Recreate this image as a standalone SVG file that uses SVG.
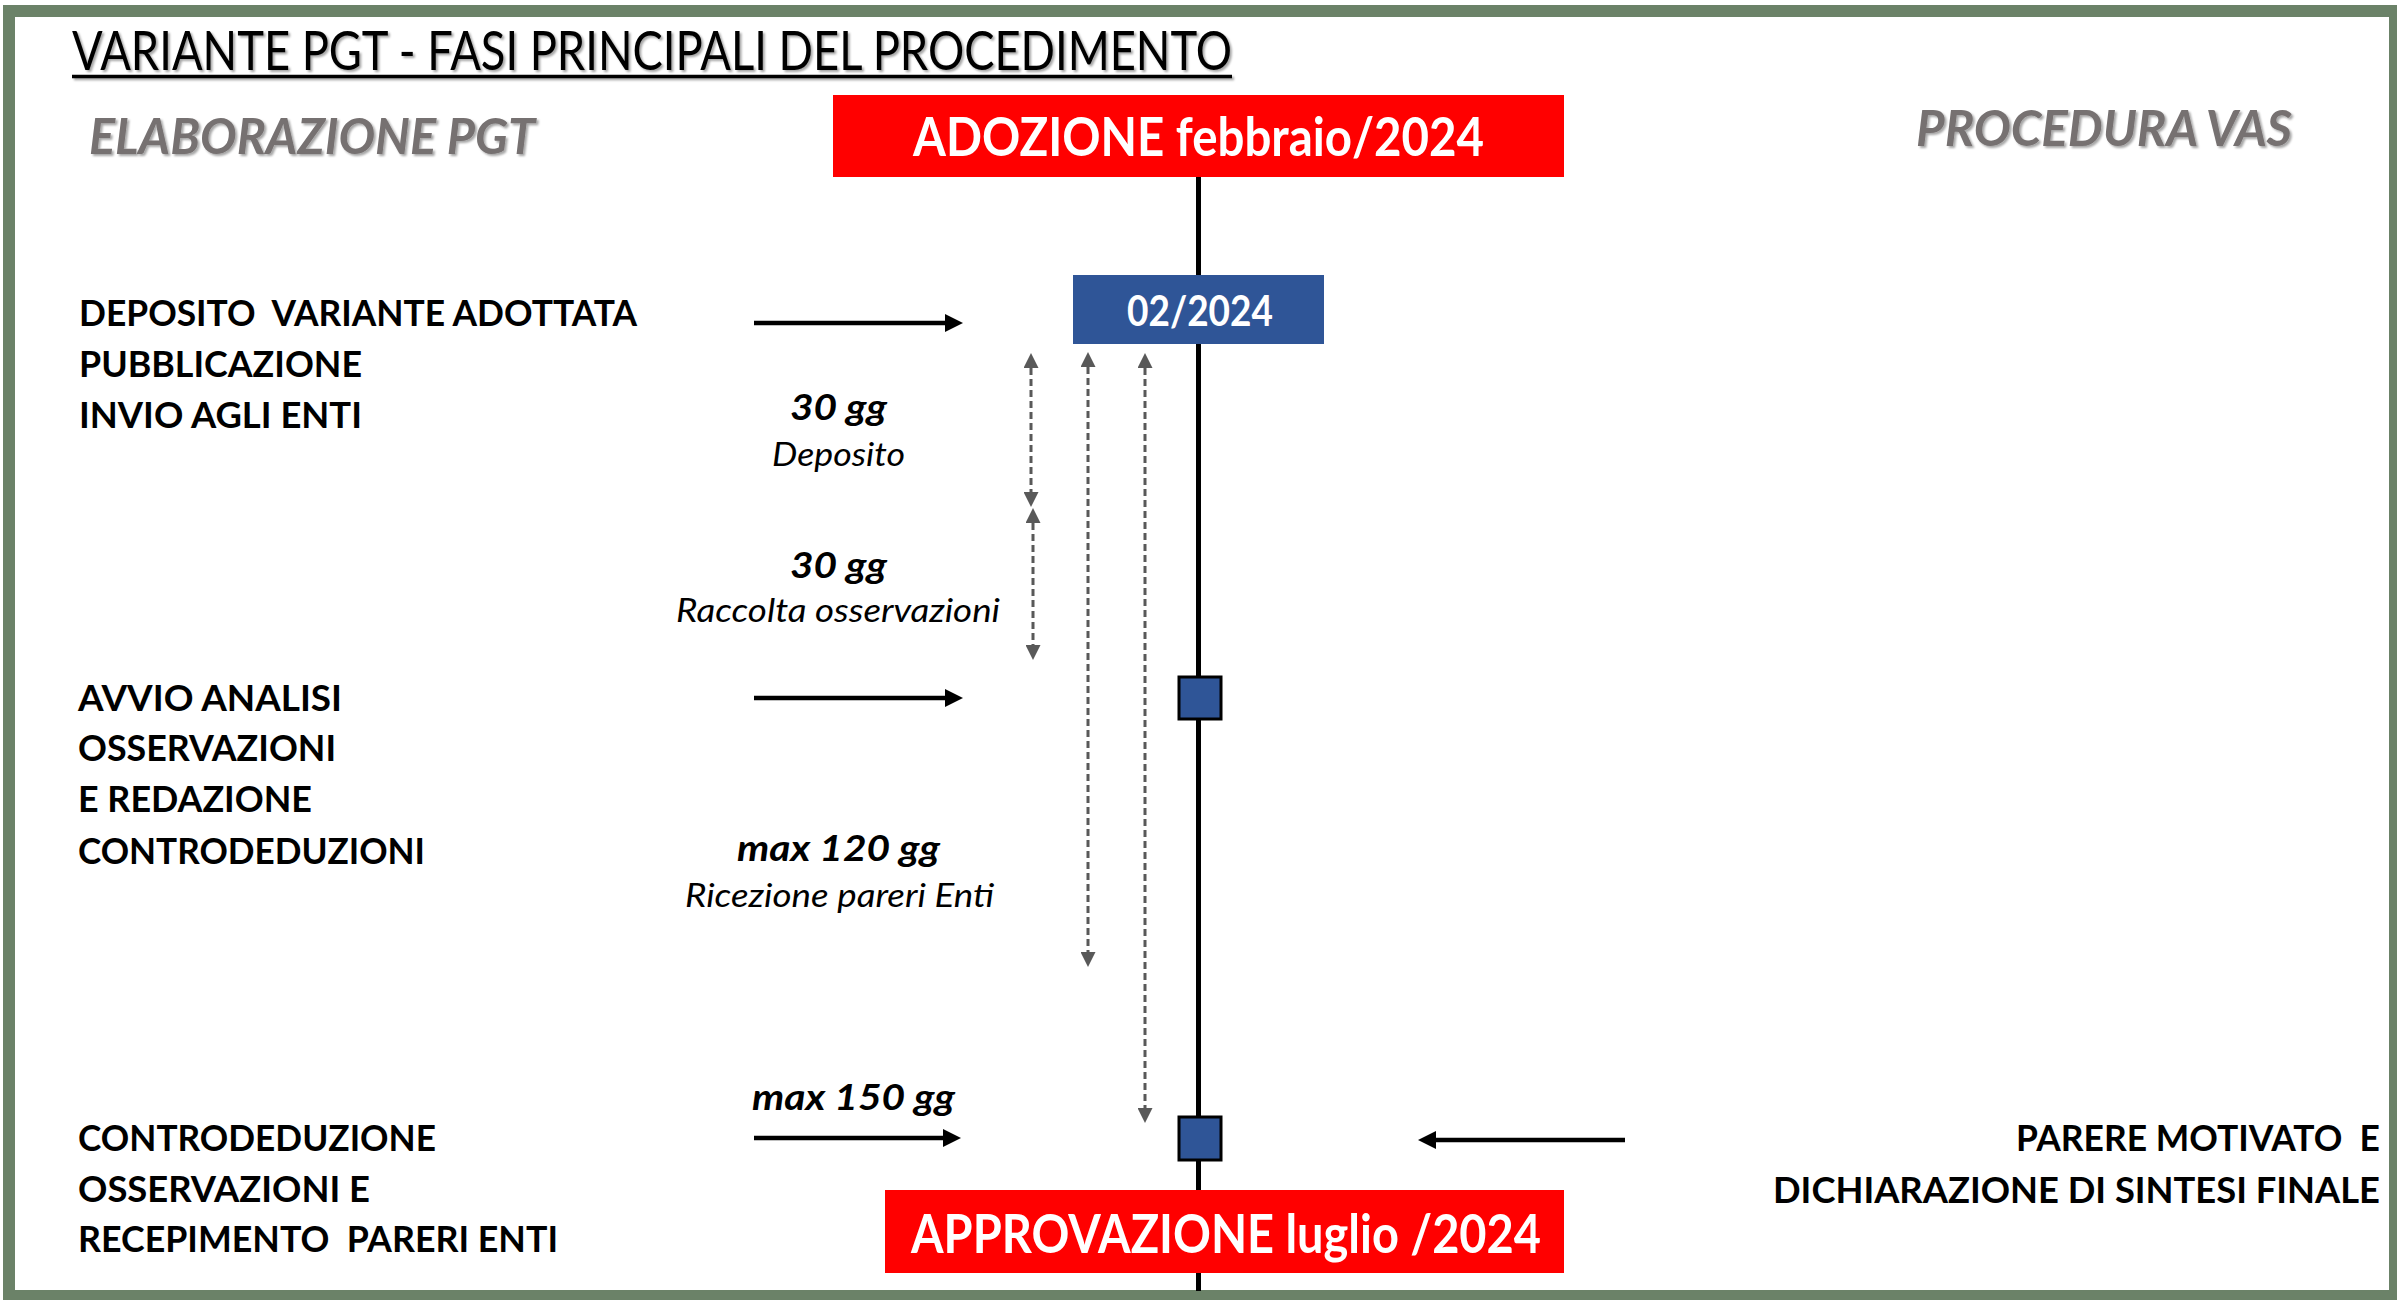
<svg xmlns="http://www.w3.org/2000/svg" width="2397" height="1300" viewBox="0 0 2397 1300">
<defs>
<style>
text { font-family: Lato, "Open Sans", "Liberation Sans", sans-serif; white-space: pre; }
.title { font-size: 54px; font-weight: 400; fill: #000; }
.hdr { font-weight: 700; font-style: italic; font-size: 49px; fill: #767171; }
.lbl { font-weight: 700; font-size: 36px; fill: #000; }
.dur { font-weight: 700; font-style: italic; font-size: 36px; fill: #000; }
.sub { font-weight: 400; font-style: italic; font-size: 32px; fill: #000; }
.wt { font-weight: 700; fill: #fff; }
.red { fill: #FF0000; }
.blue { fill: #2F5597; }
.sq { fill: #2F5597; stroke: #000; stroke-width: 3; }
.arrow { stroke: #000; stroke-width: 4.5; fill: none; marker-end: url(#ah); }
.dash { stroke: #595959; stroke-width: 3; stroke-dasharray: 7 4; fill: none; marker-start: url(#dh); marker-end: url(#dh); }
</style>
<marker id="ah" markerUnits="userSpaceOnUse" viewBox="0 0 18 18" markerWidth="18" markerHeight="18" refX="0" refY="9" orient="auto">
<path d="M0,0 L18,9 L0,18 Z" fill="#000"/>
</marker>
<marker id="dh" markerUnits="userSpaceOnUse" viewBox="0 0 15 15" markerWidth="15" markerHeight="15" refX="0" refY="7.5" orient="auto-start-reverse">
<path d="M0,0 L15,7.5 L0,15 Z" fill="#595959"/>
</marker>
<filter id="sh" x="-5%" y="-20%" width="110%" height="150%">
<feDropShadow dx="2" dy="2" stdDeviation="1.2" flood-color="#000" flood-opacity="0.35"/>
</filter>
</defs>
<rect x="0" y="0" width="2397" height="1300" fill="#fff"/>
<rect id="frame" x="9" y="11" width="2386" height="1285" fill="none" stroke="#6B8268" stroke-width="12"/>

<g id="title" filter="url(#sh)">
<text class="title" x="72" y="70" textLength="1160" lengthAdjust="spacingAndGlyphs">VARIANTE PGT - FASI PRINCIPALI DEL PROCEDIMENTO</text>
<line x1="72" y1="76.5" x2="1232" y2="76.5" stroke="#000" stroke-width="3.5"/>
</g>
<g id="hdr-pgt" filter="url(#sh)">
<text class="hdr" x="89" y="154" textLength="446" lengthAdjust="spacingAndGlyphs">ELABORAZIONE PGT</text>
</g>
<g id="hdr-vas" filter="url(#sh)">
<text class="hdr" x="1916" y="146" textLength="376" lengthAdjust="spacingAndGlyphs">PROCEDURA VAS</text>
</g>

<g id="connectors">
<line id="timeline" x1="1198.5" y1="177" x2="1198.5" y2="1291" stroke="#000" stroke-width="5"/>
<line class="arrow" x1="754" y1="323" x2="945" y2="323"/>
<line class="arrow" x1="754" y1="698" x2="945" y2="698"/>
<line class="arrow" x1="754" y1="1138" x2="943" y2="1138"/>
<line class="arrow" x1="1625" y1="1140" x2="1436" y2="1140"/>
<line class="dash" x1="1031" y1="368" x2="1031" y2="492"/>
<line class="dash" x1="1033" y1="523" x2="1033" y2="645"/>
<line class="dash" x1="1088" y1="367" x2="1088" y2="952"/>
<line class="dash" x1="1145" y1="368" x2="1145" y2="1108"/>
</g>

<g id="adozione">
<rect class="red" x="833" y="95" width="731" height="82"/>
<text class="wt" x="913" y="156" font-size="53" textLength="571" lengthAdjust="spacingAndGlyphs">ADOZIONE febbraio/2024</text>
</g>
<g id="date-0224">
<rect class="blue" x="1073" y="275" width="251" height="69"/>
<text class="wt" x="1127" y="326" font-size="42" textLength="146" lengthAdjust="spacingAndGlyphs">02/2024</text>
</g>
<g id="milestone-analisi">
<rect class="sq" x="1179" y="677" width="42" height="42"/>
</g>
<g id="milestone-controdeduzione">
<rect class="sq" x="1179" y="1117" width="42" height="43"/>
</g>
<g id="approvazione">
<rect class="red" x="885" y="1190" width="679" height="83"/>
<text class="wt" x="911" y="1253" font-size="54" textLength="630" lengthAdjust="spacingAndGlyphs">APPROVAZIONE luglio /2024</text>
</g>

<g id="label-deposito">
<text class="lbl" x="79" y="326" textLength="558" lengthAdjust="spacingAndGlyphs">DEPOSITO  VARIANTE ADOTTATA</text>
<text class="lbl" x="79" y="377" textLength="283" lengthAdjust="spacingAndGlyphs">PUBBLICAZIONE</text>
<text class="lbl" x="79" y="428" textLength="283" lengthAdjust="spacingAndGlyphs">INVIO AGLI ENTI</text>
</g>
<g id="label-avvio">
<text class="lbl" x="78" y="711" textLength="264" lengthAdjust="spacingAndGlyphs">AVVIO ANALISI</text>
<text class="lbl" x="78" y="761" textLength="258" lengthAdjust="spacingAndGlyphs">OSSERVAZIONI</text>
<text class="lbl" x="78" y="812" textLength="234" lengthAdjust="spacingAndGlyphs">E REDAZIONE</text>
<text class="lbl" x="78" y="864" textLength="347" lengthAdjust="spacingAndGlyphs">CONTRODEDUZIONI</text>
</g>
<g id="label-controdeduzione">
<text class="lbl" x="78" y="1151" textLength="358" lengthAdjust="spacingAndGlyphs">CONTRODEDUZIONE</text>
<text class="lbl" x="78" y="1202" textLength="292" lengthAdjust="spacingAndGlyphs">OSSERVAZIONI E</text>
<text class="lbl" x="78" y="1252" textLength="480" lengthAdjust="spacingAndGlyphs">RECEPIMENTO  PARERI ENTI</text>
</g>
<g id="label-parere">
<text class="lbl" x="2016" y="1151" textLength="364" lengthAdjust="spacingAndGlyphs">PARERE MOTIVATO  E</text>
<text class="lbl" x="1773" y="1203" textLength="607" lengthAdjust="spacingAndGlyphs">DICHIARAZIONE DI SINTESI FINALE</text>
</g>

<g id="dur-deposito">
<text class="dur" x="790" y="420" textLength="97" lengthAdjust="spacingAndGlyphs">30 gg</text>
<text class="sub" x="772" y="466" textLength="133" lengthAdjust="spacingAndGlyphs">Deposito</text>
</g>
<g id="dur-osservazioni">
<text class="dur" x="790" y="578" textLength="97" lengthAdjust="spacingAndGlyphs">30 gg</text>
<text class="sub" x="676" y="622" textLength="324" lengthAdjust="spacingAndGlyphs">Raccolta osservazioni</text>
</g>
<g id="dur-pareri">
<text class="dur" x="737" y="861" textLength="203" lengthAdjust="spacingAndGlyphs">max 120 gg</text>
<text class="sub" x="685" y="907" textLength="309" lengthAdjust="spacingAndGlyphs">Ricezione pareri Enti</text>
</g>
<g id="dur-150">
<text class="dur" x="752" y="1110" textLength="203" lengthAdjust="spacingAndGlyphs">max 150 gg</text>
</g>
</svg>
